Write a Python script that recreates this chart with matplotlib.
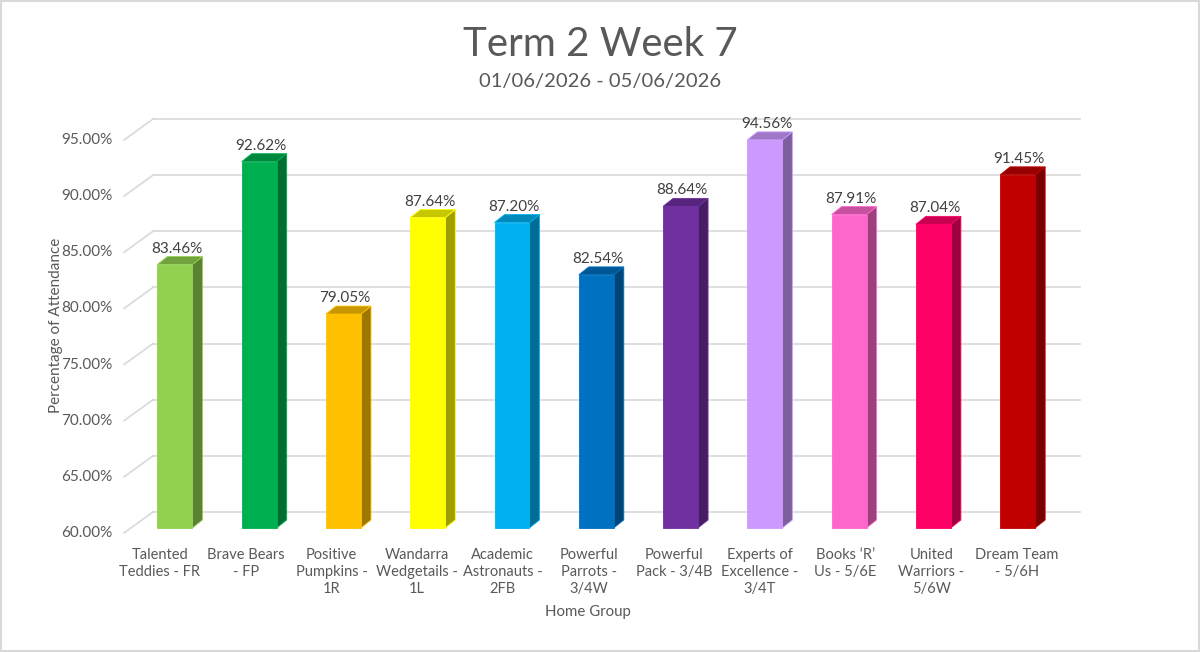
import matplotlib.pyplot as plt
from matplotlib.patches import Polygon, Rectangle
from matplotlib.colors import to_rgb

plt.rcParams['font.family'] = ['Lato', 'DejaVu Sans']

groups = ["Talented\nTeddies - FR", "Brave Bears\n- FP", "Positive\nPumpkins -\n1R",
          "Wandarra\nWedgetails -\n1L", "Academic\nAstronauts -\n2FB", "Powerful\nParrots -\n3/4W",
          "Powerful\nPack - 3/4B", "Experts of\nExcellence -\n3/4T", "Books \u2018R\u2019\nUs - 5/6E",
          "United\nWarriors -\n5/6W", "Dream Team\n- 5/6H"]
attendance = [83.46, 92.62, 79.05, 87.64, 87.20, 82.54, 88.64, 94.56, 87.91, 87.04, 91.45]
colors = ["#92D050", "#00B050", "#FFC000", "#FFFF00", "#00B0F0", "#0070C0",
          "#7030A0", "#CC99FF", "#FF66CC", "#FF0066", "#C00000"]
yticks = [60, 65, 70, 75, 80, 85, 90, 95]

grey = "#595959"
gridc = "#D9D9D9"

fig = plt.figure(figsize=(12, 6.52), dpi=100)
fig.patches.append(Rectangle((0.001, 0.001), 0.998, 0.997, transform=fig.transFigure,
                             fill=False, edgecolor="#D9D9D9", lw=1.5))

# axes = back wall of the 3D chart
ax = fig.add_axes([153 / 1200, 140 / 652, 927 / 1200, 393 / 652])
ax.set_xlim(-0.5, 10.5)
ax.set_ylim(60, 95)
ax.axis('off')

# 3D offsets (data units)
front_dx, front_dy = -0.344, -1.87   # front plane of the floor / tick labels
bar_dx, bar_dy = -0.24, -1.42        # plane of the bar faces
depth_dx, depth_dy = 0.119, 0.71     # bar depth
w = 0.415

for v in yticks:
    ax.plot([-0.5, 10.5], [v, v], color=gridc, lw=1.2, clip_on=False, zorder=1)
    ax.plot([-0.5 + front_dx, -0.5], [v + front_dy, v], color=gridc, lw=1.2, clip_on=False, zorder=1)
    ax.text(-0.5 + front_dx - 0.14, v + front_dy, f"{v:.2f}%", ha='right', va='center',
            fontsize=11, color=grey)


def shade(c, f):
    r, g, b = to_rgb(c)
    return (r * f, g * f, b * f)


for i, (v, c) in enumerate(zip(attendance, colors)):
    x0 = i + bar_dx - w / 2
    x1 = x0 + w
    base = 60 + bar_dy
    top = v + bar_dy
    side = Polygon([(x1, base), (x1 + depth_dx, base + depth_dy), (x1 + depth_dx, top + depth_dy), (x1, top)],
                   closed=True, facecolor=shade(c, 0.62), edgecolor=c, lw=0.6, clip_on=False, zorder=3)
    topf = Polygon([(x0, top), (x0 + depth_dx, top + depth_dy), (x1 + depth_dx, top + depth_dy), (x1, top)],
                   closed=True, facecolor=shade(c, 0.78), edgecolor=c, lw=0.6, clip_on=False, zorder=3)
    front = Rectangle((x0, base), w, top - base, facecolor=c, edgecolor=c, lw=0.6, clip_on=False, zorder=4)
    ax.add_patch(side)
    ax.add_patch(topf)
    ax.add_patch(front)
    ax.annotate(f"{v:.2f}%", (i + bar_dx + 0.02, top), xytext=(0, 11.5), textcoords='offset points',
                ha='center', va='center', fontsize=11, color="#404040", zorder=5)
    ax.text(i * 1.017 - 0.417, 60 + front_dy - 1.3, groups[i], ha='center', va='top',
            fontsize=10.5, color=grey, linespacing=1.28)

fig.text(0.5, 1 - 45 / 652, "Term 2 Week 7", ha='center', va='center', fontsize=29, color=grey)
fig.text(0.5, 1 - 82 / 652, "01/06/2026 - 05/06/2026", ha='center', va='center', fontsize=14.5, color=grey)
fig.text(56 / 1200, 1 - 325 / 652, "Percentage of Attendance", rotation=90, ha='center', va='center',
         fontsize=11, color=grey)
fig.text(588 / 1200, 1 - 612 / 652, "Home Group", ha='center', va='center', fontsize=10.8, color=grey)

fig.savefig("out.png", dpi=100)
